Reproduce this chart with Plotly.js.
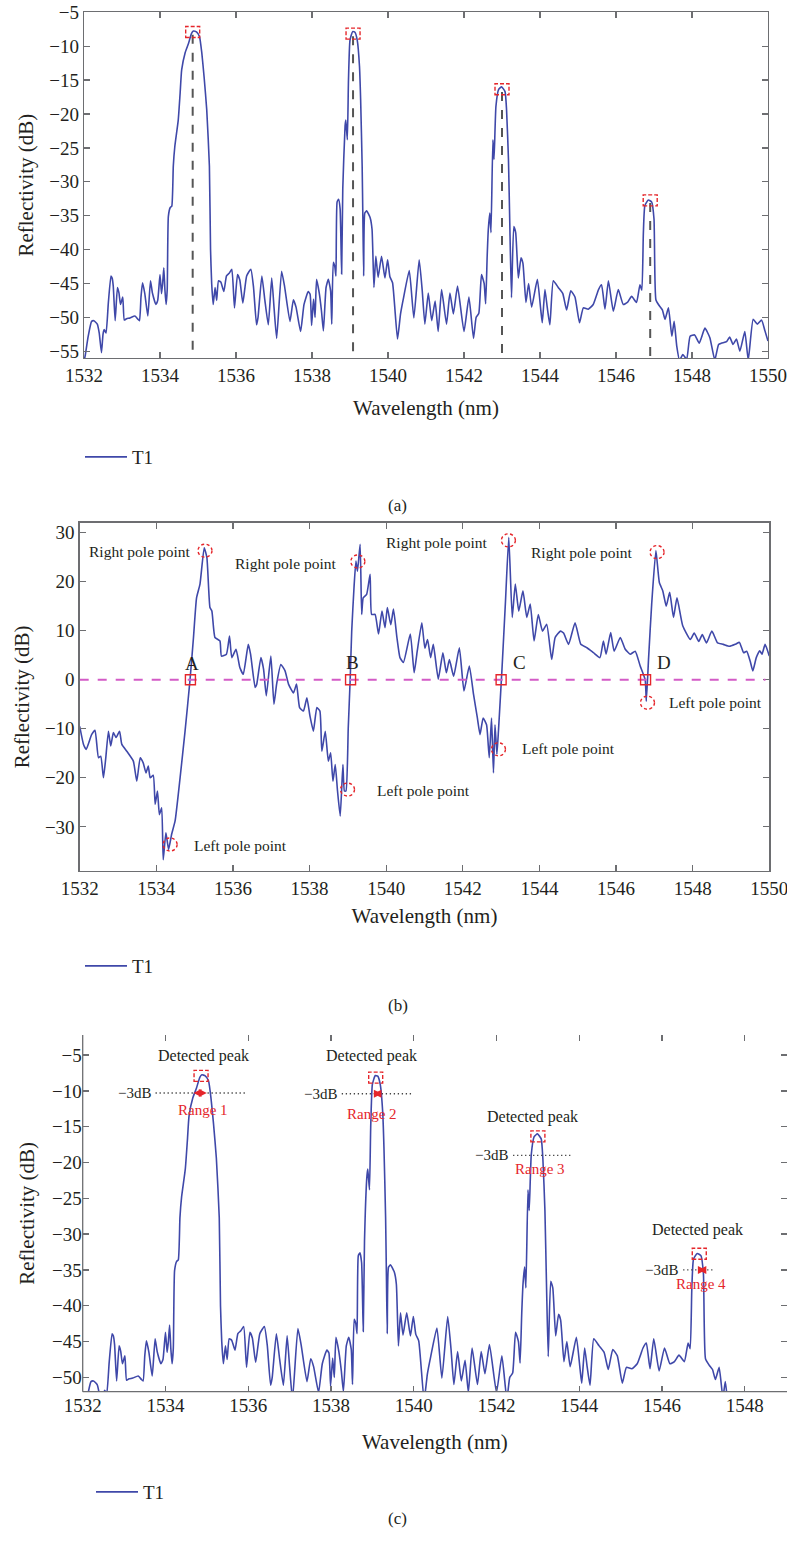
<!DOCTYPE html>
<html><head><meta charset="utf-8">
<script src="https://cdn.plot.ly/plotly-3.0.1.min.js"></script>
<style>html,body{margin:0;padding:0;background:#fff}#chart{width:787px;height:1542px}</style>
</head><body><div id="chart"></div>
<script>
// ---------- data: spectrum T1 (panels a and c) ----------
const wavelengthT1 = [
1532.00,1532.03,1532.11,1532.20,1532.26,1532.35,1532.40,1532.46,1532.50,1532.53,
1532.58,1532.64,1532.71,1532.74,1532.77,1532.82,1532.88,1532.92,1532.96,1533.02,
1533.06,1533.12,1533.21,1533.34,1533.42,1533.46,1533.50,1533.54,1533.60,1533.68,
1533.75,1533.80,1533.89,1533.94,1534.00,1534.04,1534.07,1534.10,1534.13,1534.16,
1534.19,1534.22,1534.27,1534.31,1534.35,1534.39,1534.48,1534.53,1534.57,1534.66,
1534.75,1534.83,1534.88,1534.96,1535.04,1535.10,1535.16,1535.23,1535.30,1535.33,
1535.36,1535.40,1535.45,1535.49,1535.54,1535.60,1535.68,1535.75,1535.82,1535.89,
1535.96,1536.04,1536.10,1536.18,1536.28,1536.39,1536.46,1536.54,1536.58,1536.68,
1536.76,1536.85,1536.94,1537.00,1537.07,1537.20,1537.28,1537.42,1537.51,1537.58,
1537.70,1537.79,1537.90,1537.95,1537.99,1538.04,1538.08,1538.12,1538.19,1538.25,
1538.30,1538.37,1538.43,1538.49,1538.52,1538.56,1538.60,1538.63,1538.66,1538.70,
1538.74,1538.78,1538.81,1538.87,1538.89,1538.93,1538.96,1539.00,1539.07,1539.13,
1539.19,1539.25,1539.28,1539.32,1539.34,1539.36,1539.39,1539.44,1539.53,1539.58,
1539.63,1539.68,1539.74,1539.83,1539.92,1539.99,1540.05,1540.12,1540.25,1540.33,
1540.41,1540.56,1540.68,1540.82,1540.90,1540.97,1541.06,1541.15,1541.24,1541.32,
1541.41,1541.54,1541.63,1541.72,1541.83,1542.00,1542.13,1542.25,1542.32,1542.39,
1542.46,1542.53,1542.57,1542.61,1542.64,1542.68,1542.71,1542.76,1542.79,1542.84,
1542.91,1542.99,1543.08,1543.12,1543.17,1543.21,1543.25,1543.31,1543.36,1543.43,
1543.50,1543.55,1543.63,1543.70,1543.78,1543.93,1544.02,1544.06,1544.13,1544.19,
1544.26,1544.35,1544.48,1544.60,1544.70,1544.81,1544.92,1545.04,1545.14,1545.27,
1545.40,1545.54,1545.62,1545.71,1545.80,1545.93,1546.06,1546.19,1546.30,1546.41,
1546.54,1546.63,1546.68,1546.72,1546.76,1546.85,1546.94,1547.00,1547.05,1547.14,
1547.22,1547.29,1547.38,1547.47,1547.53,1547.60,1547.67,1547.76,1547.86,1547.95,
1548.07,1548.19,1548.34,1548.47,1548.60,1548.70,1548.78,1548.91,1548.99,1549.08,
1549.17,1549.26,1549.39,1549.48,1549.61,1549.72,1549.83,1549.92,1550.00];
const reflectivityT1 = [
-56.5,-55.7,-52.8,-50.6,-50.5,-51.0,-52.3,-55.2,-52.5,-51.8,
-52.3,-47.9,-43.9,-44.2,-45.4,-50.5,-45.6,-46.4,-48.1,-47.0,
-50.4,-50.2,-50.1,-49.8,-50.3,-50.5,-47.0,-44.9,-46.5,-49.8,
-44.6,-46.4,-48.1,-47.5,-43.7,-46.5,-45.0,-42.7,-46.0,-48.1,
-45.9,-35.1,-33.8,-33.6,-27.7,-24.8,-20.9,-16.9,-13.5,-11.0,
-9.6,-8.1,-7.75,-7.9,-8.6,-11.0,-14.5,-19.4,-27.7,-40.0,
-45.0,-48.1,-45.6,-47.5,-44.6,-44.8,-46.2,-43.9,-43.5,-42.9,
-48.6,-43.7,-44.5,-47.9,-43.9,-42.9,-45.5,-51.1,-50.0,-43.9,
-47.5,-51.1,-44.2,-48.5,-53.1,-43.2,-45.5,-50.6,-47.4,-48.5,
-52.1,-48.1,-46.2,-46.6,-51.2,-47.3,-50.0,-44.4,-46.4,-49.1,
-52.0,-45.6,-44.4,-46.1,-51.0,-41.9,-42.5,-43.9,-33.0,-32.6,
-34.0,-43.6,-31.0,-21.8,-20.9,-23.8,-15.0,-9.1,-7.85,-7.95,
-9.1,-13.0,-17.9,-27.7,-36.0,-43.9,-34.6,-34.3,-35.3,-37.0,
-45.6,-41.0,-44.1,-41.0,-44.2,-41.5,-44.0,-44.9,-53.2,-49.5,
-47.1,-43.1,-50.1,-41.5,-46.0,-51.0,-46.4,-50.5,-47.6,-52.1,
-45.9,-51.0,-46.4,-49.5,-45.4,-52.1,-47.0,-53.1,-50.0,-49.4,
-43.7,-45.0,-48.0,-41.0,-37.0,-34.6,-37.5,-23.8,-26.7,-18.9,
-16.4,-16.0,-16.7,-19.4,-26.7,-37.6,-47.1,-36.6,-37.5,-44.2,
-41.2,-42.0,-47.8,-45.0,-48.5,-44.4,-48.9,-50.8,-45.9,-48.5,
-51.1,-44.6,-45.6,-46.5,-48.9,-46.1,-47.0,-50.8,-48.6,-48.8,
-48.1,-45.9,-45.2,-48.8,-44.6,-49.1,-45.9,-48.1,-47.8,-46.9,
-47.8,-45.2,-46.0,-37.6,-33.5,-32.7,-33.0,-35.5,-47.4,-48.3,
-48.9,-50.3,-48.6,-52.8,-50.6,-54.3,-56.3,-55.5,-56.2,-52.8,
-52.6,-53.8,-51.6,-53.0,-56.3,-54.0,-53.8,-53.6,-52.9,-54.0,
-53.2,-55.0,-52.1,-56.3,-50.3,-51.0,-50.4,-52.0,-53.5];
// panel (c) shows the same spectrum up to this wavelength
const panelCLastWavelength = 1547.62;

// ---------- data: panel (b) ----------
const wavelengthB = [
1532.00,1532.10,1532.17,1532.31,1532.40,1532.49,1532.55,1532.62,1532.68,1532.75,
1532.81,1532.88,1532.95,1533.04,1533.10,1533.23,1533.40,1533.49,1533.58,1533.66,
1533.73,1533.79,1533.84,1533.92,1533.97,1534.03,1534.08,1534.14,1534.18,1534.25,
1534.32,1534.40,1534.49,1534.62,1534.75,1534.88,1534.97,1535.05,1535.14,1535.25,
1535.32,1535.40,1535.45,1535.53,1535.66,1535.70,1535.83,1535.91,1535.97,1536.08,
1536.18,1536.27,1536.40,1536.46,1536.58,1536.62,1536.73,1536.80,1536.87,1536.99,
1537.07,1537.14,1537.25,1537.36,1537.45,1537.58,1537.66,1537.74,1537.84,1537.93,
1538.01,1538.10,1538.19,1538.27,1538.32,1538.41,1538.49,1538.55,1538.61,1538.67,
1538.73,1538.80,1538.87,1538.91,1538.95,1539.01,1539.06,1539.10,1539.16,1539.21,
1539.25,1539.32,1539.36,1539.40,1539.49,1539.58,1539.62,1539.71,1539.80,1539.89,
1539.97,1540.03,1540.12,1540.19,1540.28,1540.36,1540.45,1540.63,1540.73,1540.81,
1540.93,1541.01,1541.08,1541.16,1541.23,1541.36,1541.48,1541.57,1541.65,1541.76,
1541.91,1542.03,1542.17,1542.28,1542.38,1542.45,1542.53,1542.62,1542.69,1542.75,
1542.80,1542.84,1542.89,1542.93,1543.02,1543.11,1543.20,1543.29,1543.37,1543.46,
1543.57,1543.67,1543.76,1543.86,1543.97,1544.08,1544.19,1544.32,1544.41,1544.55,
1544.63,1544.76,1544.93,1545.08,1545.24,1545.41,1545.58,1545.67,1545.74,1545.86,
1545.95,1546.11,1546.24,1546.37,1546.50,1546.63,1546.76,1546.79,1546.85,1546.93,
1547.04,1547.13,1547.22,1547.31,1547.40,1547.50,1547.59,1547.74,1547.94,1548.04,
1548.16,1548.25,1548.36,1548.50,1548.65,1548.80,1548.96,1549.11,1549.22,1549.33,
1549.41,1549.50,1549.57,1549.66,1549.75,1549.81,1549.89,1550.00];
const reflectivityB = [
-9.5,-13.2,-14.2,-11.2,-10.3,-15.9,-15.6,-20.0,-16.0,-10.5,
-13.5,-10.8,-11.8,-10.5,-13.2,-14.6,-16.6,-20.7,-15.9,-17.0,
-19.0,-17.6,-20.0,-19.5,-25.4,-22.7,-27.5,-26.1,-36.7,-31.2,
-34.6,-31.5,-28.8,-20.0,-10.5,0.0,8.6,16.7,19.5,26.9,
24.9,14.7,14.0,8.6,7.9,4.8,5.2,8.9,4.5,6.2,
2.5,1.1,7.2,5.2,-1.6,-1.0,4.5,2.1,-3.3,4.8,
-5.0,-0.9,3.1,1.8,-0.9,-2.7,-0.9,-5.7,-6.4,-3.7,
-7.4,-10.5,-5.7,-6.4,-14.6,-10.5,-16.6,-14.9,-20.7,-17.3,
-22.7,-27.8,-17.3,-22.7,-22.7,-9.8,0.0,9.9,18.8,24.2,
22.1,27.6,13.3,16.7,17.4,21.5,13.3,13.3,9.3,14.0,
10.6,14.7,11.2,14.4,8.6,4.5,3.5,9.3,1.4,5.8,
11.6,6.4,8.2,4.5,7.2,0.1,5.5,1.4,4.1,0.7,
6.5,-2.3,2.8,-3.0,-7.8,-11.2,-7.8,-9.2,-15.9,-7.8,
-19.0,-9.2,-15.2,-10.5,1.8,15.4,29.0,12.7,19.5,14.0,
18.1,12.7,15.4,7.9,13.3,9.9,11.3,4.1,8.6,9.9,
9.5,7.2,11.6,7.2,6.5,5.5,4.5,7.9,5.2,9.6,
5.8,8.6,6.2,5.2,5.8,2.8,0.0,-4.4,4.5,15.4,
26.3,19.8,18.1,15.0,17.8,12.7,16.7,11.0,8.2,9.5,
7.8,9.2,7.5,9.9,7.5,7.2,6.8,7.2,7.6,5.5,
5.8,3.8,1.8,4.5,5.9,5.2,7.2,4.8];

// ---------- annotation data ----------
const peakWavelength = [1534.86, 1539.08, 1543.00, 1546.90];
const peakReflectivity = [-7.9, -8.15, -16.35, -32.75];

const crossWavelength = [1534.89, 1539.07, 1543.00, 1546.77];
const crossLabels = ['A', 'B', 'C', 'D'];
const crossLabelWavelength = [1534.92, 1539.13, 1543.48, 1547.24];
const crossLabelValue = [3.3, 3.5, 3.5, 3.5];
const rightPoleWavelength = [1535.27, 1539.26, 1543.19, 1547.07];
const rightPoleValue = [26.3, 24.1, 28.4, 26.0];
const rightPoleTextWavelength = [1534.92, 1538.74, 1542.68, 1546.47];
const rightPoleTextValue = [26.1, 23.6, 28.0, 25.9];
const leftPoleWavelength = [1534.36, 1538.99, 1542.93, 1546.82];
const leftPoleValue = [-33.6, -22.4, -14.2, -4.7];
const leftPoleTextWavelength = [1534.94, 1539.71, 1543.49, 1547.32];
const leftPoleTextValue = [-33.7, -22.5, -14.1, -4.55];

const halfLevel = [-10.3, -10.4, -19.0, -35.0];
const halfLineStart = [1533.76, 1538.26, 1542.40, 1546.51];
const halfLineEnd = [1535.93, 1539.95, 1543.83, 1547.28];
const rangeLeft = [1534.64, 1538.99, 1542.99, 1546.84];
const rangeRight = [1535.00, 1539.23, 1543.11, 1547.06];
const rangeNames = ['Range 1', 'Range 2', 'Range 3', 'Range 4'];
const rangeLabelWavelength = [1534.91, 1539.00, 1543.06, 1546.94];
const rangeLabelValue = [-12.65, -13.2, -20.9, -37.0];
const detectedLabelWavelength = [1534.91, 1538.98, 1542.88, 1546.85];
const detectedLabelValue = [-5.1, -5.1, -13.6, -29.4];

// ---------- style ----------
const W = 787, H = 1542;
const F = 'Liberation Serif, Times New Roman, serif';
const INK = '#231f20', AXC = '#6d6e71', RED = '#e5262b', BLUE = '#3f48a9';

const cN = Math.min(wavelengthT1.length, reflectivityT1.length);
const wlC = [], dbC = [];
for (let i = 0; i < cN; i++) {
  if (wavelengthT1[i] <= panelCLastWavelength) { wlC.push(wavelengthT1[i]); dbC.push(reflectivityT1[i]); }
}

const lineStyle = {color: BLUE, width: 1.6, shape: 'spline', smoothing: 0.45};
const traces = [
  {x: wavelengthT1, y: reflectivityT1, xaxis: 'x', yaxis: 'y', type: 'scatter', mode: 'lines', name: 'T1', line: lineStyle, legend: 'legend', hoverinfo: 'skip'},
  {x: wavelengthB, y: reflectivityB, xaxis: 'x2', yaxis: 'y2', type: 'scatter', mode: 'lines', name: 'T1', line: lineStyle, legend: 'legend2', hoverinfo: 'skip'},
  {x: wlC, y: dbC, xaxis: 'x3', yaxis: 'y3', type: 'scatter', mode: 'lines', name: 'T1', line: lineStyle, legend: 'legend3', hoverinfo: 'skip'}
];

const axBase = {
  showgrid: false, zeroline: false, showline: true, linecolor: AXC, linewidth: 1.3,
  ticks: 'inside', ticklen: 6, tickwidth: 1.3, tickcolor: AXC, mirror: 'ticks',
  tickfont: {family: F, size: 19, color: INK}, automargin: false, ticklabeloverflow: 'allow'
};
const xt = (s) => ({text: 'Wavelength (nm)', font: {family: F, size: 21, color: INK}, standoff: s});
const yt = (s) => ({text: 'Reflectivity (dB)', font: {family: F, size: 21, color: INK}, standoff: s});

const shapes = [];
const annotations = [];
const DASH_BOX = '4px,2px';

// panel a: dashed verticals + dashed red boxes
for (let i = 0; i < peakWavelength.length; i++) {
  shapes.push({type: 'line', xref: 'x', yref: 'y', x0: peakWavelength[i], x1: peakWavelength[i], y0: peakReflectivity[i] - 0.4, y1: -56,
    line: {color: '#555555', width: 2, dash: 'dash'}});
  shapes.push({type: 'rect', xref: 'x', yref: 'y', xsizemode: 'pixel', ysizemode: 'pixel',
    xanchor: peakWavelength[i], yanchor: peakReflectivity[i], x0: -7, x1: 7, y0: -5.5, y1: 5.5,
    line: {color: RED, width: 1.4, dash: DASH_BOX}});
}

// panel b
shapes.push({type: 'line', xref: 'x2', yref: 'y2', x0: 1532, x1: 1549.9, y0: 0, y1: 0,
  line: {color: '#d35bc6', width: 2, dash: 'dash'}});
for (let i = 0; i < crossWavelength.length; i++) {
  shapes.push({type: 'rect', xref: 'x2', yref: 'y2', xsizemode: 'pixel', ysizemode: 'pixel',
    xanchor: crossWavelength[i], yanchor: 0, x0: -5, x1: 5, y0: -5, y1: 5, line: {color: RED, width: 1.4}});
  shapes.push({type: 'circle', xref: 'x2', yref: 'y2', xsizemode: 'pixel', ysizemode: 'pixel',
    xanchor: rightPoleWavelength[i], yanchor: rightPoleValue[i], x0: -7, x1: 7, y0: -6.5, y1: 6.5,
    line: {color: RED, width: 1.4, dash: '3px,2.5px'}});
  shapes.push({type: 'circle', xref: 'x2', yref: 'y2', xsizemode: 'pixel', ysizemode: 'pixel',
    xanchor: leftPoleWavelength[i], yanchor: leftPoleValue[i], x0: -7, x1: 7, y0: -6.5, y1: 6.5,
    line: {color: RED, width: 1.4, dash: '3px,2.5px'}});
  annotations.push({xref: 'x2', yref: 'y2', x: crossLabelWavelength[i], y: crossLabelValue[i], text: crossLabels[i],
    showarrow: false, font: {family: F, size: 19, color: INK}});
  annotations.push({xref: 'x2', yref: 'y2', x: rightPoleTextWavelength[i], y: rightPoleTextValue[i], text: 'Right pole point',
    showarrow: false, xanchor: 'right', font: {family: F, size: 15.5, color: INK}});
  annotations.push({xref: 'x2', yref: 'y2', x: leftPoleTextWavelength[i], y: leftPoleTextValue[i], text: 'Left pole point',
    showarrow: false, xanchor: 'left', font: {family: F, size: 15.5, color: INK}});
}

// panel c: left and bottom axis lines only (top/right show ticks without a line)
shapes.push({type: 'line', xref: 'x3 domain', yref: 'y3 domain', x0: 0, x1: 1, y0: 0, y1: 0, line: {color: AXC, width: 1.3}});
shapes.push({type: 'line', xref: 'x3 domain', yref: 'y3 domain', x0: 0, x1: 0, y0: 0, y1: 1, line: {color: AXC, width: 1.3}});
for (let i = 0; i < peakWavelength.length; i++) {
  shapes.push({type: 'rect', xref: 'x3', yref: 'y3', xsizemode: 'pixel', ysizemode: 'pixel',
    xanchor: peakWavelength[i], yanchor: peakReflectivity[i], x0: -7, x1: 7, y0: -5.5, y1: 5.5,
    line: {color: RED, width: 1.4, dash: DASH_BOX}});
  shapes.push({type: 'line', xref: 'x3', yref: 'y3', x0: halfLineStart[i], x1: halfLineEnd[i], y0: halfLevel[i], y1: halfLevel[i],
    line: {color: '#444444', width: 1.3, dash: '1.3px,2.7px'}});
  annotations.push({xref: 'x3', yref: 'y3', x: halfLineStart[i], y: halfLevel[i], xshift: -3, text: '\u22123dB',
    showarrow: false, xanchor: 'right', font: {family: F, size: 15, color: INK}});
  annotations.push({xref: 'x3', yref: 'y3', x: rangeRight[i], y: halfLevel[i], ax: rangeLeft[i], ay: halfLevel[i],
    axref: 'x3', ayref: 'y3', text: '', showarrow: true, arrowside: 'end+start', arrowhead: 2, arrowsize: 1,
    arrowwidth: 1.6, arrowcolor: RED, standoff: 0, startstandoff: 0});
  annotations.push({xref: 'x3', yref: 'y3', x: rangeLabelWavelength[i], y: rangeLabelValue[i], text: rangeNames[i],
    showarrow: false, font: {family: F, size: 15, color: RED}});
  annotations.push({xref: 'x3', yref: 'y3', x: detectedLabelWavelength[i], y: detectedLabelValue[i], text: 'Detected peak',
    showarrow: false, font: {family: F, size: 16, color: INK}});
}

// panel labels
[['(a)', 494], ['(b)', 1005], ['(c)', 1530]].forEach(([t, py]) => {
  annotations.push({xref: 'paper', yref: 'paper', x: 398 / W, y: 1 - py / H, text: t, showarrow: false,
    font: {family: F, size: 17, color: INK}});
});

const legendBase = {xanchor: 'left', yanchor: 'middle', bgcolor: 'rgba(0,0,0,0)', borderwidth: 0,
  itemwidth: 42, font: {family: F, size: 19, color: INK}};

const layout = {
  width: W, height: H, margin: {l: 0, r: 0, t: 0, b: 0}, paper_bgcolor: '#fff', plot_bgcolor: '#fff',
  showlegend: true, font: {family: F, color: INK},
  xaxis: Object.assign({}, axBase, {domain: [84 / W, 768 / W], anchor: 'y', range: [1532, 1550], tick0: 1532, dtick: 2, title: xt(15)}),
  yaxis: Object.assign({}, axBase, {domain: [1 - 358 / H, 1 - 12.3 / H], anchor: 'x', range: [-56, -5], tick0: -55, dtick: 5, title: yt(9)}),
  xaxis2: Object.assign({}, axBase, {domain: [79.7 / W, 769.3 / W], anchor: 'y2', range: [1532, 1550], tick0: 1532, dtick: 2, title: xt(10)}),
  yaxis2: Object.assign({}, axBase, {domain: [1 - 871 / H, 1 - 522.7 / H], anchor: 'x2', range: [-39, 32], tick0: 0, dtick: 10, title: yt(9)}),
  xaxis3: Object.assign({}, axBase, {domain: [82.7 / W, 1], anchor: 'y3', range: [1532, 1549.02], tick0: 1532, dtick: 2, showline: false, title: xt(19)}),
  yaxis3: Object.assign({}, axBase, {domain: [1 - 1391.7 / H, 1 - 1035 / H], anchor: 'x3', range: [-52, -2.2], tick0: -50, dtick: 5, showline: false, title: yt(11)}),
  legend: Object.assign({}, legendBase, {x: 80 / W, y: 1 - 457 / H}),
  legend2: Object.assign({}, legendBase, {x: 80 / W, y: 1 - 966 / H}),
  legend3: Object.assign({}, legendBase, {x: 91 / W, y: 1 - 1492 / H}),
  shapes: shapes,
  annotations: annotations
};

Plotly.newPlot('chart', traces, layout, {staticPlot: true, displayModeBar: false});
</script></body></html>
